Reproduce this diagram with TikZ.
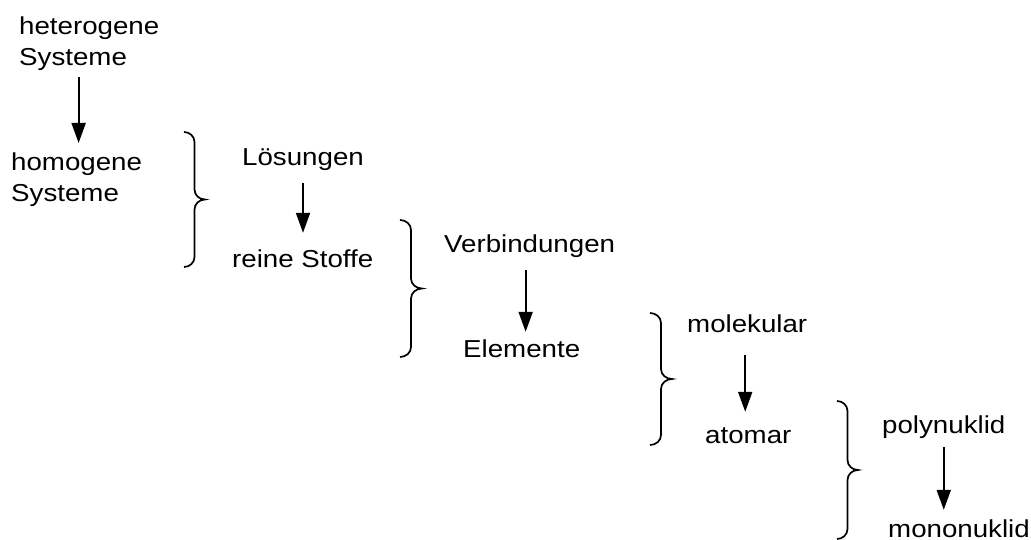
\documentclass[tikz,border=0pt]{standalone}
\usepackage{fontspec}
\setmainfont{Liberation Sans}[FakeStretch=1.13]
\usetikzlibrary{arrows.meta}
% right curly brace: #1 = x of the hooks, #2 = x of the tip, #3 = top, #4 = bottom
\newcommand\drawbrace[4]{%
  \pgfmathsetmacro\bx{(#1+#2)/2}%
  \pgfmathsetmacro\my{(#3+#4)/2}%
  \draw[brc] (#1,#3) to[out=0,in=90] (\bx,#3+10) -- (\bx,\my-10)
    to[out=-90,in=180] (#2,\my) to[out=180,in=90] (\bx,\my+10)
    -- (\bx,#4-10) to[out=-90,in=0] (#1,#4);}
\begin{document}
\begin{tikzpicture}[x=1pt,y=-1pt,
  lbl/.style={inner sep=0pt, anchor=base west, font=\fontsize{24.5}{30}\selectfont,
    text height=18pt, text depth=5pt},
  lbltwo/.style={inner sep=0pt, anchor=north west, align=left,
    font=\fontsize{24.5}{30.5}\selectfont},
  arr/.style={line width=1.9pt, -{Triangle[length=20pt,width=14pt]}},
  brc/.style={line width=1.7pt}]
\fill[white] (0,0) rectangle (1031,540);
\useasboundingbox (0,0) rectangle (1031,540);

% column 1
\node[lbltwo] (het) at (19,17) {heterogene\\Systeme};
\node[lbltwo] (hom) at (11,153) {homogene\\Systeme};
% column 2
\node[lbl] (loes) at (242,166) {Lösungen};
\node[lbl] (rein) at (232,268) {reine Stoffe};
% column 3
\node[lbl] (verb) at (444,253) {Verbindungen};
\node[lbl] (elem) at (463,357) {Elemente};
% column 4
\node[lbl] (mol) at (687,332) {molekular};
\node[lbl] (atom) at (705,443) {atomar};
% column 5
\node[lbl] (poly) at (882,433) {polynuklid};
\node[lbl] (mono) at (888,537) {mononuklid};

% arrows
\draw[arr, shorten <=6pt, shorten >=10pt]
  ([xshift=2pt]het.south -| hom.north) -- ([xshift=2pt]hom.north);
\draw[arr, shorten <=12pt, shorten >=17pt] (loes.south) -- (loes.south |- rein.north);
\draw[arr, shorten <=12pt, shorten >=7pt]
  ([xshift=-4pt]verb.south) -- ([xshift=-4pt]verb.south |- elem.north);
\draw[arr, shorten <=18pt, shorten >=13pt]
  ([xshift=-2pt]mol.south) -- ([xshift=-2pt]mol.south |- atom.north);
\draw[arr, shorten <=9pt, shorten >=9pt] (poly.south) -- (poly.south |- mono.north);

% braces
\drawbrace{184}{205}{132}{267}
\drawbrace{400}{422}{220}{357}
\drawbrace{650}{672}{313}{445}
\drawbrace{837}{858}{401}{539}
\end{tikzpicture}
\end{document}
